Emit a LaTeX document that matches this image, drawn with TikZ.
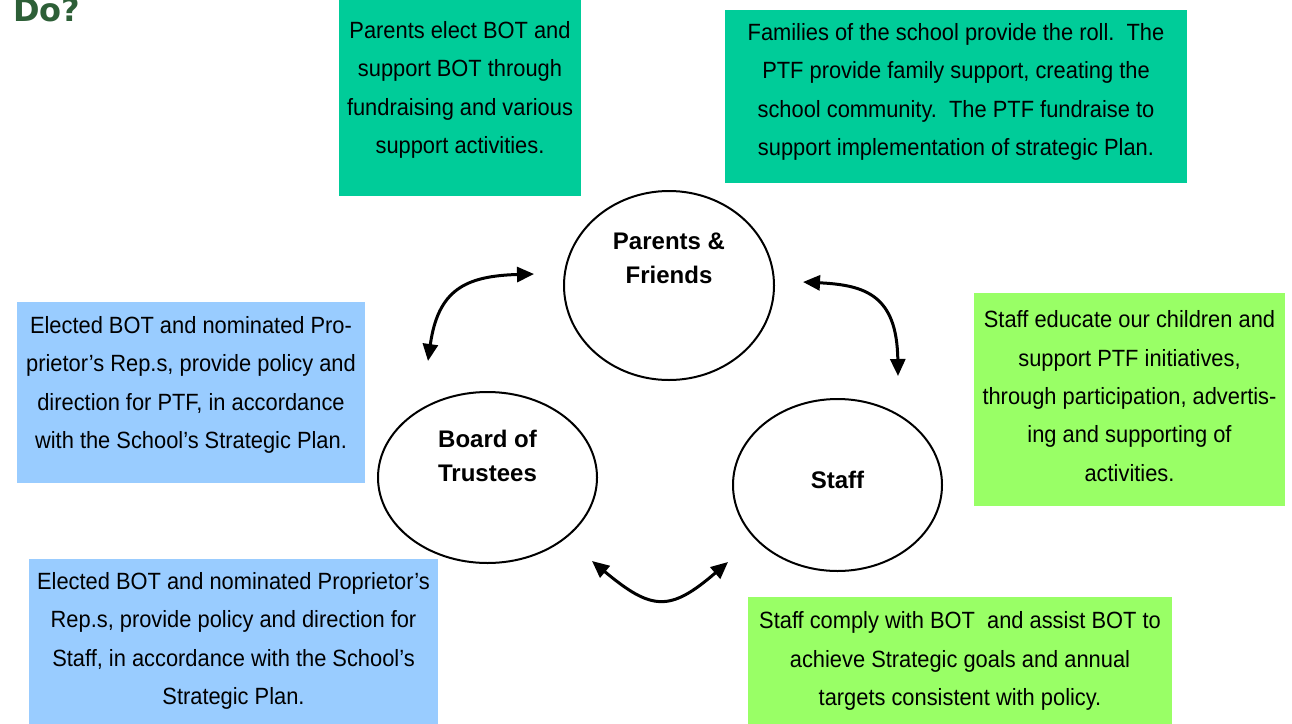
\documentclass[tikz,border=0pt]{standalone}
\usepackage{fontspec}
\setmainfont{Liberation Sans}[FakeStretch=0.93]
\newfontfamily\labfont{Liberation Sans Bold}
\newfontfamily\dofont{DejaVu Sans Bold}
\usetikzlibrary{shapes.geometric,arrows.meta}
\definecolor{teal1}{RGB}{0,204,153}
\definecolor{blue1}{RGB}{153,204,255}
\definecolor{green1}{RGB}{153,255,102}
\definecolor{dogreen}{RGB}{45,95,55}
\begin{document}
\begin{tikzpicture}[x=1pt,y=-1pt,
  boxfill/.style={rectangle,inner sep=0pt,draw=none,anchor=north west},
  bodytext/.style={align=center,inner sep=0pt,font=\fontsize{23.5}{38.4}\selectfont},
  circ/.style={ellipse,draw=black,line width=2pt,inner sep=0pt},
  circtext/.style={align=center,inner sep=0pt,font=\labfont\fontsize{24}{34.5}\selectfont},
  arr/.style={line width=3pt,{Triangle[length=17pt,width=15pt]}-{Triangle[length=17pt,width=15pt]}}]
\useasboundingbox (0,0) rectangle (1292,723);
\clip (0,0) rectangle (1292,723);
\fill[white] (0,0) rectangle (1292,723);

% title fragment
\node[anchor=base west,inner sep=0pt,text=dogreen,font=\dofont\fontsize{32}{36}\selectfont] (title) at (13,21) {Do?};

% coloured boxes
\node[boxfill,fill=teal1,minimum width=242,minimum height=196] (b1) at (339,0) {};
\node[boxfill,fill=teal1,minimum width=462,minimum height=173] (b2) at (725,10) {};
\node[boxfill,fill=blue1,minimum width=348,minimum height=181] (b3) at (17,302) {};
\node[boxfill,fill=blue1,minimum width=409,minimum height=170] (b4) at (29,559) {};
\node[boxfill,fill=green1,minimum width=311,minimum height=213] (b5) at (974,293) {};
\node[boxfill,fill=green1,minimum width=424,minimum height=130] (b6) at (748,597) {};

% box texts
\node[bodytext] (t1) at (460,90) {Parents elect BOT and\\support BOT through\\fundraising and various\\support activities.};
\node[bodytext] (t2) at (956,92) {Families of the school provide the roll.\ \ The\\PTF provide family support, creating the\\school community.\ \ The PTF fundraise to\\support implementation of strategic Plan.};
\node[bodytext] (t3) at (191,385) {Elected BOT and nominated Pro-\\prietor’s Rep.s, provide policy and\\direction for PTF, in accordance\\with the School’s Strategic Plan.};
\node[bodytext] (t4) at (233.5,641) {Elected BOT and nominated Proprietor’s\\Rep.s, provide policy and direction for\\Staff, in accordance with the School’s\\Strategic Plan.};
\node[bodytext] (t5) at (1129.5,396) {Staff educate our children and\\support PTF initiatives,\\through participation, advertis-\\ing and supporting of\\activities.};
\node[bodytext] (t6) at (960,661) {Staff comply with BOT\ \ and assist BOT to\\achieve Strategic goals and annual\\targets consistent with policy.};

% circles
\node[circ,minimum width=210,minimum height=189] (pf) at (669,285.5) {};
\node[circ,minimum width=219,minimum height=171] (bot) at (487.5,477.5) {};
\node[circ,minimum width=209,minimum height=172] (staff) at (837.5,485) {};

\node[circtext] (pft) at (669,258.5) {Parents \&\\Friends};
\node[circtext] (bott) at (487.5,456) {Board of\\Trustees};
\node[circtext] (stafft) at (837.5,480) {Staff};

% arrows
\coordinate (a1s) at (534,274);
\coordinate (a1e) at (428,361);
\coordinate (a2s) at (803,282);
\coordinate (a2e) at (898,376);
\coordinate (a3s) at (592,561);
\coordinate (a3e) at (728,562);
\draw[arr] (a1s) .. controls (465,276) and (438,290) .. (a1e);
\draw[arr] (a2s) .. controls (865,285) and (897,295) .. (a2e);
\draw[arr] (a3s) .. controls (652,611) and (670,612) .. (a3e);
\end{tikzpicture}
\end{document}
